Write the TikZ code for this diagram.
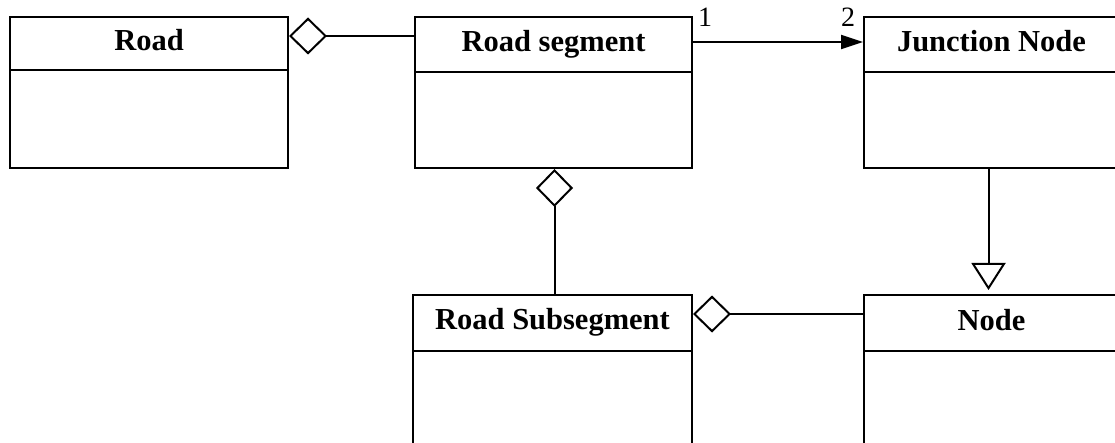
\documentclass[tikz,border=0pt]{standalone}
\usepackage{fontspec}
\setmainfont{Liberation Serif}
\usetikzlibrary{arrows.meta}
\begin{document}
\begin{tikzpicture}[x=1pt,y=-1pt,line width=2pt,
  classbox/.style={draw, rectangle, anchor=north west, inner sep=0pt},
  title/.style={anchor=base, inner sep=0pt, font=\fontsize{30.5}{36}\selectfont\bfseries},
  mult/.style={anchor=base, inner sep=0pt, font=\fontsize{28}{34}\selectfont},
  aggr/.style={{Diamond[open,length=38pt,width=37pt]}-},
  assoc/.style={-{Triangle[length=22pt,width=14pt]}},
  gener/.style={-{Triangle[open,length=27pt,width=34pt]}}]
\useasboundingbox (0,0) rectangle (1115,443);
% classes
\node[classbox, minimum width=278pt, minimum height=151pt] (road) at (9,16) {};
\node[classbox, minimum width=277pt, minimum height=151pt] (seg) at (414,16) {};
\node[classbox, minimum width=255pt, minimum height=151pt] (junc) at (863,16) {};
\node[classbox, minimum width=279pt, minimum height=152pt] (sub) at (412,294) {};
\node[classbox, minimum width=255pt, minimum height=152pt] (node) at (863,294) {};
% header dividers
\draw (road.west |- 0,70) -- (road.east |- 0,70);
\draw (seg.west |- 0,72) -- (seg.east |- 0,72);
\draw (junc.west |- 0,72) -- (junc.east |- 0,72);
\draw (sub.west |- 0,351) -- (sub.east |- 0,351);
\draw (node.west |- 0,351) -- (node.east |- 0,351);
% class names
\node[title] (roadT) at (road.north |- 0,51) {Road};
\node[title] (segT) at (seg.north |- 0,52) {Road segment};
\node[title] (juncT) at (junc.north |- 0,52) {Junction Node};
\node[title] (subT) at (sub.north |- 0,329) {Road Subsegment};
\node[title] (nodeT) at (node.north |- 0,330) {Node};
% relations
\draw[aggr] ([yshift=-20pt]road.north east) -- ([yshift=-20pt]seg.north west);
\draw[assoc] ([yshift=-26pt]seg.north east) -- ([yshift=-26pt]junc.north west);
\draw[aggr] ([xshift=1pt]seg.south) -- ([xshift=1pt]seg.south |- sub.north);
\draw[aggr] ([yshift=-20pt]sub.north east) -- ([yshift=-20pt]node.north west);
\draw[gener] ([xshift=-3pt]junc.south) -- ([xshift=-3pt,yshift=4pt]node.north);
% multiplicities
\node[mult] (m1) at (705,27) {1};
\node[mult] (m2) at (848,27) {2};
\end{tikzpicture}
\end{document}
